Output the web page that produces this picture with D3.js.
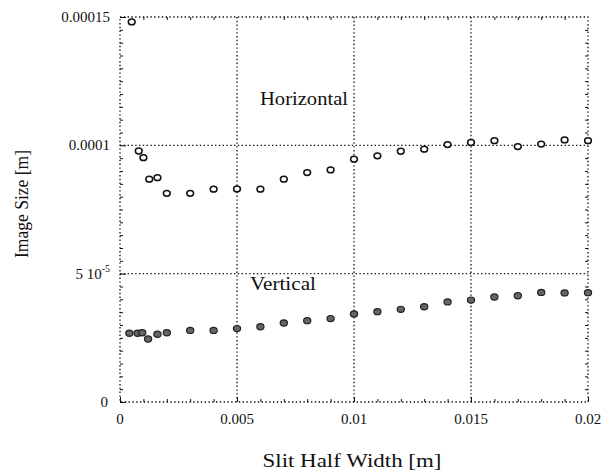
<!DOCTYPE html>
<html>
<head>
<meta charset="utf-8">
<script src="https://cdn.jsdelivr.net/npm/d3@7/dist/d3.min.js"></script>
<style>
  body { margin: 0; background: #fff; }
</style>
</head>
<body>
<div id="chart"></div>
<script>
// dados (tamanho da imagem x meia largura da fenda)
const horizX = [0.0005, 0.0008, 0.001, 0.00125, 0.0016, 0.002, 0.003, 0.004, 0.005, 0.006, 0.007, 0.008,
                0.009, 0.01, 0.011, 0.012, 0.013, 0.014, 0.015, 0.016, 0.017, 0.018, 0.019, 0.02];
const horizY = [1.481e-4, 9.78e-5, 9.52e-5, 8.68e-5, 8.74e-5, 8.13e-5, 8.13e-5, 8.29e-5, 8.30e-5, 8.29e-5,
                8.68e-5, 8.94e-5, 9.04e-5, 9.46e-5, 9.59e-5, 9.77e-5, 9.85e-5, 1.003e-4, 1.011e-4,
                1.018e-4, 9.95e-5, 1.005e-4, 1.021e-4, 1.018e-4];

const vertX = [0.0004, 0.00075, 0.00095, 0.0012, 0.0016, 0.002, 0.003, 0.004, 0.005, 0.006, 0.007, 0.008,
               0.009, 0.01, 0.011, 0.012, 0.013, 0.014, 0.015, 0.016, 0.017, 0.018, 0.019, 0.02];
const vertY = [2.68e-5, 2.68e-5, 2.70e-5, 2.455e-5, 2.64e-5, 2.70e-5, 2.79e-5, 2.79e-5, 2.86e-5, 2.93e-5,
               3.08e-5, 3.17e-5, 3.25e-5, 3.43e-5, 3.52e-5, 3.61e-5, 3.71e-5, 3.90e-5, 3.97e-5, 4.09e-5,
               4.14e-5, 4.27e-5, 4.25e-5, 4.26e-5];

// ticks
const xMajor = [0, 0.005, 0.01, 0.015, 0.02];
const xMajorLabels = ["0", "0.005", "0.01", "0.015", "0.02"];
const xMinor = [0.001, 0.002, 0.003, 0.004, 0.006, 0.007, 0.008, 0.009, 0.011, 0.012, 0.013, 0.014,
                0.016, 0.017, 0.018, 0.019];
const yMajor = [0, 5e-5, 1e-4, 1.5e-4];
const yMajorLabels = ["0", "5 10", "0.0001", "0.00015"];
const yMinorStep = 5e-6;

const width = 604, height = 474;
const mLeft = 120, mRight = 588, mTop = 17, mBottom = 402;

const serif = "'Liberation Serif', 'Times New Roman', Tinos, 'DejaVu Serif', serif";

const svg = d3.select("#chart").append("svg")
  .attr("width", width)
  .attr("height", height)
  .attr("font-family", serif)
  .style("font-family", serif);

const x = d3.scaleLinear().domain([0, 0.02]).range([mLeft, mRight]);
const y = d3.scaleLinear().domain([0, 0.00015]).range([mBottom, mTop]);

const dots = "1.4,2.4";

// grade pontilhada
const grid = svg.append("g");
grid.selectAll(".gx")
  .data(xMajor.slice(1, -1))
  .enter().append("line")
  .attr("x1", d => x(d)).attr("x2", d => x(d))
  .attr("y1", mTop).attr("y2", mBottom)
  .attr("stroke", "#111").attr("stroke-width", 1.3).attr("stroke-dasharray", dots);
grid.selectAll(".gy")
  .data(yMajor.slice(1, -1))
  .enter().append("line")
  .attr("x1", mLeft).attr("x2", mRight)
  .attr("y1", d => y(d)).attr("y2", d => y(d))
  .attr("stroke", "#111").attr("stroke-width", 1.3).attr("stroke-dasharray", dots);

// moldura
svg.append("rect")
  .attr("x", mLeft).attr("y", mTop)
  .attr("width", mRight - mLeft).attr("height", mBottom - mTop)
  .attr("fill", "none").attr("stroke", "#111").attr("stroke-width", 1.3)
  .attr("stroke-dasharray", dots);

// ticks para dentro em todos os lados
const yMinor = d3.range(1, 30).map(i => i * yMinorStep).filter(v => !yMajor.some(m => Math.abs(m - v) < 1e-9));

function inwardAxis(axisFn, scale, values, size, translate) {
  const g = svg.append("g")
    .attr("transform", translate)
    .call(axisFn(scale).tickValues(values).tickSize(-size).tickFormat(""));
  g.select(".domain").remove();
  g.selectAll(".tick line").attr("stroke", "#111").attr("stroke-width", 1);
  return g;
}

inwardAxis(d3.axisBottom, x, xMinor, 3, `translate(0,${mBottom})`);
inwardAxis(d3.axisBottom, x, xMajor, 5, `translate(0,${mBottom})`);
inwardAxis(d3.axisTop, x, xMinor, 3, `translate(0,${mTop})`);
inwardAxis(d3.axisLeft, y, yMinor, 3, `translate(${mLeft},0)`);
inwardAxis(d3.axisLeft, y, yMajor, 6, `translate(${mLeft},0)`);
inwardAxis(d3.axisRight, y, yMinor, 3, `translate(${mRight},0)`);

// rótulos do eixo x
svg.append("g").selectAll("text")
  .data(xMajor)
  .enter().append("text")
  .attr("x", d => x(d))
  .attr("y", mBottom + 22)
  .attr("text-anchor", "middle")
  .attr("font-size", 15)
  .attr("fill", "#111")
  .text((d, i) => xMajorLabels[i]);

// rótulos do eixo y
const yl = svg.append("g").selectAll("text")
  .data(yMajor)
  .enter().append("text")
  .attr("x", d => d === 0 ? mLeft - 12 : mLeft - 10)
  .attr("y", d => y(d) + 5)
  .attr("text-anchor", "end")
  .attr("font-size", 15)
  .attr("fill", "#111")
  .text((d, i) => yMajorLabels[i]);

// expoente do 5 10^-5
yl.filter(d => d === 5e-5)
  .append("tspan")
  .attr("font-size", 10)
  .attr("dy", -7)
  .text("-5");

// pontos: horizontal (abertos) e vertical (preenchidos)
svg.append("g").selectAll("ellipse")
  .data(horizX.map((d, i) => [d, horizY[i]]))
  .enter().append("ellipse")
  .attr("cx", d => x(d[0]))
  .attr("cy", d => y(d[1]))
  .attr("rx", 3.4).attr("ry", 2.9)
  .attr("fill", "#fff").attr("stroke", "#111").attr("stroke-width", 1.5);

svg.append("g").selectAll("ellipse")
  .data(vertX.map((d, i) => [d, vertY[i]]))
  .enter().append("ellipse")
  .attr("cx", d => x(d[0]))
  .attr("cy", d => y(d[1]))
  .attr("rx", 3.6).attr("ry", 3.1)
  .attr("fill", "#666").attr("stroke", "#222").attr("stroke-width", 1.2);

// anotações
svg.append("text")
  .attr("x", 260).attr("y", 105)
  .attr("font-size", 18)
  .attr("fill", "#111")
  .attr("textLength", 88).attr("lengthAdjust", "spacingAndGlyphs")
  .text("Horizontal");

svg.append("text")
  .attr("x", 250).attr("y", 290)
  .attr("font-size", 18)
  .attr("fill", "#111")
  .attr("textLength", 66).attr("lengthAdjust", "spacingAndGlyphs")
  .text("Vertical");

// títulos dos eixos
svg.append("text")
  .attr("x", 352).attr("y", 467)
  .attr("text-anchor", "middle")
  .attr("font-size", 18)
  .attr("fill", "#111")
  .attr("textLength", 179).attr("lengthAdjust", "spacingAndGlyphs")
  .text("Slit Half Width [m]");

svg.append("text")
  .attr("transform", "translate(28,204) rotate(-90)")
  .attr("text-anchor", "middle")
  .attr("font-size", 18)
  .attr("fill", "#111")
  .attr("textLength", 108).attr("lengthAdjust", "spacingAndGlyphs")
  .text("Image Size [m]");
</script>
</body>
</html>
